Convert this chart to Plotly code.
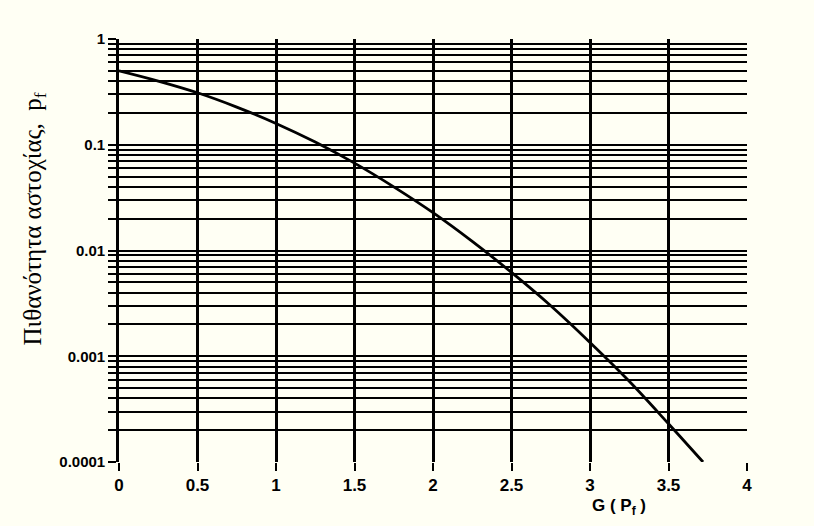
import plotly.graph_objects as go

# Reliability index G(p_f) and probability of failure
beta = [0.0, 0.25, 0.5, 0.75, 1.0, 1.25, 1.5, 1.75, 2.0, 2.25, 2.5, 2.75, 3.0, 3.25, 3.5, 3.72]
pf = [0.5, 0.40, 0.31, 0.227, 0.159, 0.106, 0.067, 0.040, 0.0228, 0.0122, 0.0062, 0.0030, 0.00135, 0.00058, 0.00023, 0.0001]

x_ticks = [0, 0.5, 1, 1.5, 2, 2.5, 3, 3.5, 4]
x_labels = ["0", "0.5", "1", "1.5", "2", "2.5", "3", "3.5", "4"]
decades = [0.0001, 0.001, 0.01, 0.1, 1]
decade_labels = ["0.0001", "0.001", "0.01", "0.1", "1"]

minor_vals = [d * m for d in decades[:-1] for m in range(2, 10)]

bg = "#fffff4"
fig = go.Figure()
fig.add_trace(go.Scatter(x=beta, y=pf, mode="lines",
                         line=dict(color="black", width=2.8, shape="spline"),
                         showlegend=False, hoverinfo="x+y"))

tick_font = dict(size=15, family="Liberation Sans Narrow, Liberation Sans", color="black")
fig.update_layout(
    width=814, height=526,
    margin=dict(l=119, r=67, t=39, b=64),
    paper_bgcolor=bg, plot_bgcolor=bg,
    font=dict(family="Liberation Sans", color="black"),
    xaxis=dict(range=[0, 4], tickvals=x_ticks, ticktext=["<b>" + t + "</b>" for t in x_labels],
               showgrid=True, gridcolor="black", gridwidth=2.6,
               ticks="outside", ticklen=8, tickwidth=2, tickcolor="black",
               tickfont=dict(size=17, family="Liberation Sans Narrow, Liberation Sans", color="black"),
               showline=False, zeroline=False, fixedrange=True),
    yaxis=dict(type="log", range=[-4, 0], tickvals=decades,
               ticktext=["<b>" + t + "</b>" for t in decade_labels],
               showgrid=True, gridcolor="black", gridwidth=1.9,
               ticks="outside", ticklen=8, tickwidth=1.8, tickcolor="black",
               tickfont=tick_font,
               minor=dict(tickvals=minor_vals, showgrid=True, gridcolor="black", gridwidth=1.9,
                          ticks="outside", ticklen=8, tickwidth=1.8, tickcolor="black"),
               showline=True, linecolor="black", linewidth=2.6, mirror=False,
               zeroline=False, fixedrange=True),
)

fig.add_annotation(text="<b>G ( P<sub>f</sub> )</b>", xref="paper", yref="paper",
                   x=0.796, y=-0.075, xanchor="center", yanchor="top", showarrow=False,
                   font=dict(size=17, family="Liberation Sans", color="black"))
fig.add_annotation(text="Πιθανότητα αστοχίας,  p<sub>f</sub>", xref="paper", yref="paper",
                   x=-0.134, y=0.575, xanchor="center", yanchor="middle", showarrow=False,
                   textangle=-90,
                   font=dict(size=25, family="Liberation Serif", color="black"))

fig.write_html("out.html", config={"displayModeBar": False},
               post_script="document.body.style.margin='0';document.body.style.background='%s';" % bg)
